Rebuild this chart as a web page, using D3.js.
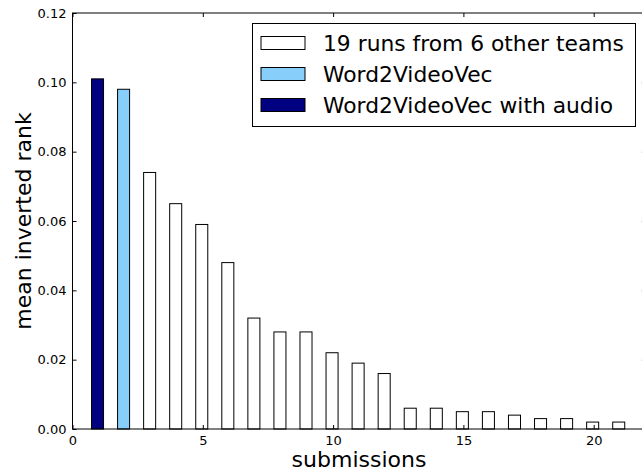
<!DOCTYPE html>
<html><head><meta charset="utf-8">
<script src="https://cdn.jsdelivr.net/npm/d3@7"></script>
<style>body{margin:0;background:#fff;} svg{display:block;font-family:"DejaVu Sans",sans-serif;}</style>
</head><body>
<svg id="c" width="642" height="471"></svg>
<script>
const submissions = [1,2,3,4,5,6,7,8,9,10,11,12,13,14,15,16,17,18,19,20,21];
const scores = [0.101,0.098,0.074,0.065,0.059,0.048,0.032,0.028,0.028,0.022,0.019,0.016,0.006,0.006,0.005,0.005,0.004,0.003,0.003,0.002,0.002];
const groups = ["audio","w2vv","other","other","other","other","other","other","other","other","other","other","other","other","other","other","other","other","other","other","other"];
const legendLabels = ["19 runs from 6 other teams","Word2VideoVec","Word2VideoVec with audio"];
const legendKeys = ["other","w2vv","audio"];
const xTicks = [0,5,10,15,20];
const yTicks = [0,0.02,0.04,0.06,0.08,0.10,0.12];

const colors = {other:"#ffffff", w2vv:"#87cefa", audio:"#000080"};
const svg = d3.select("#c");
const L=72.5, T=13, B=429, unit=26.06;
const x = d3.scaleLinear().domain([0,22]).range([L, L+22*unit]);
const y = d3.scaleLinear().domain([0,0.12]).range([B,T]);
const R = x(22);

// bars
svg.append("g").selectAll("rect").data(submissions).join("rect")
  .attr("x",(d)=>x(d-0.29)+0.5)
  .attr("width",(d)=>x(d+0.21)-x(d-0.29)-1)
  .attr("y",(d,i)=>y(scores[i]))
  .attr("height",(d,i)=>B-y(scores[i]))
  .attr("fill",(d,i)=>colors[groups[i]])
  .attr("stroke","#000").attr("stroke-width",1);

// axes
const fmt = d3.format(".2f");
const gx = svg.append("g").attr("transform",`translate(0,${B})`)
  .call(d3.axisBottom(x).tickValues(xTicks).tickSize(-4).tickPadding(7).tickFormat(d3.format("d")));
const gy = svg.append("g").attr("transform",`translate(${L},0)`)
  .call(d3.axisLeft(y).tickValues(yTicks).tickSize(-4).tickPadding(6).tickFormat(fmt));
const gxt = svg.append("g").attr("transform",`translate(0,${T})`)
  .call(d3.axisTop(x).tickValues(xTicks).tickSize(-4).tickFormat(""));
const gyr = svg.append("g").attr("transform",`translate(${R},0)`)
  .call(d3.axisRight(y).tickValues(yTicks).tickSize(-4).tickFormat(""));
[gx,gy,gxt,gyr].forEach(g=>{
  g.select(".domain").remove();
  g.selectAll("line").attr("stroke","#000");
  g.selectAll("text").attr("font-size",13).attr("fill","#000").attr("font-family","DejaVu Sans");
});
svg.append("rect").attr("x",L).attr("y",T).attr("width",R-L).attr("height",B-T)
  .attr("fill","none").attr("stroke","#000").attr("stroke-width",1);

// axis labels
svg.append("text").attr("x",359).attr("y",467).attr("text-anchor","middle")
  .attr("font-size",22).text("submissions");
svg.append("text").attr("transform",`translate(31,${221}) rotate(-90)`).attr("text-anchor","middle")
  .attr("font-size",22).text("mean inverted rank");

// legend
const lg = svg.append("g");
lg.append("rect").attr("x",252.5).attr("y",23.5).attr("width",383).attr("height",103)
  .attr("fill","#fff").attr("stroke","#000").attr("stroke-width",1);
legendKeys.forEach((k,i)=>{
  const cy = 43 + i*31;
  lg.append("rect").attr("x",261).attr("y",cy-6.5).attr("width",44).attr("height",13)
    .attr("fill",colors[k]).attr("stroke","#000").attr("stroke-width",1);
  lg.append("text").attr("x",323).attr("y",cy+7.5).attr("font-size",21.8).text(legendLabels[i]);
});
</script>
</body></html>
